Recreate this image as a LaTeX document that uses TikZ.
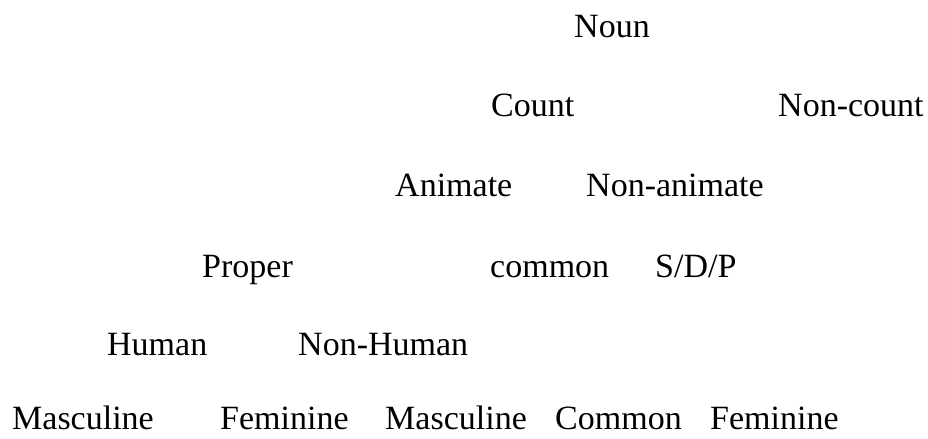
\documentclass[tikz,border=0pt]{standalone}
\usepackage{fontspec}
\setmainfont{Liberation Serif}
\begin{document}
\begin{tikzpicture}[x=1bp, y=-1bp,
  term/.style={inner sep=0pt, anchor=base west, font=\fontsize{34bp}{40bp}\selectfont}]
\useasboundingbox (0,0) rectangle (928,439);
% level 0
\node[term] (noun) at (574,38) {Noun};
% level 1
\node[term] (count) at (491,117) {Count};
\node[term] (noncount) at (778,117) {Non-count};
% level 2
\node[term] (animate) at (395,197) {Animate};
\node[term] (nonanimate) at (586,197) {Non-animate};
% level 3
\node[term] (proper) at (202,278) {Proper};
\node[term] (common) at (490,278) {common};
\node[term] (sdp) at (655,278) {S/D/P};
% level 4
\node[term] (human) at (107,356) {Human};
\node[term] (nonhuman) at (298,356) {Non-Human};
% level 5
\node[term] (masc1) at (12,429) {Masculine};
\node[term] (fem1) at (220,429) {Feminine};
\node[term] (masc2) at (385,429) {Masculine};
\node[term] (commonG) at (555,429) {Common};
\node[term] (fem2) at (710,429) {Feminine};
\end{tikzpicture}
\end{document}
